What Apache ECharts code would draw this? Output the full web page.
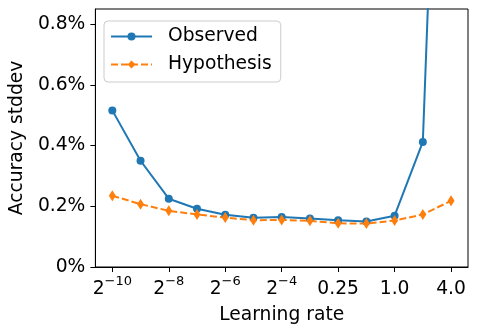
<!DOCTYPE html>
<html>
<head>
<meta charset="utf-8">
<script src="https://cdn.jsdelivr.net/npm/echarts@6.0.0/dist/echarts.min.js"></script>
<style>
    html, body { margin: 0; padding: 0; background: #fff; }
    #lrChart { width: 477px; height: 333px; }
</style>
</head>
<body>
<div id="lrChart"></div>
<script>
// learning rate = 2^exponent, stddev values in %
var lrExponents = [-10, -9, -8, -7, -6, -5, -4, -3, -2, -1, 0, 1, 2];
var observed = [0.516, 0.350, 0.225, 0.192, 0.172, 0.162, 0.165, 0.160, 0.154, 0.150, 0.169, 0.412, 2.9];
var hypothesis = [0.235, 0.207, 0.185, 0.173, 0.163, 0.154, 0.155, 0.152, 0.144, 0.143, 0.153, 0.173, 0.218];
var tickExponents = [-10, -8, -6, -4, -2, 0, 2];
var tickLabels = ['2^−10', '2^−8', '2^−6', '2^−4', '0.25', '1.0', '4.0'];

var font = 'DejaVu Sans';

function pairs(values) {
    var out = [];
    for (var i = 0; i < lrExponents.length; i++) {
        out.push([lrExponents[i], values[i]]);
    }
    return out;
}

function xLabel(v) {
    var idx = tickExponents.indexOf(Math.round(v));
    if (idx < 0) return '';
    var txt = tickLabels[idx];
    if (txt.indexOf('^') >= 0) {
        var parts = txt.split('^');
        return '{b|' + parts[0] + '}{s|' + parts[1] + '}';
    }
    return '{b|' + txt + '}';
}

var myChart = echarts.init(document.getElementById('lrChart'));
var option = {
    animation: false,
    backgroundColor: '#fff',
    grid: {
        left: 94, top: 9, right: 9, bottom: 66,
        show: true, borderColor: '#000', borderWidth: 1
    },
    legend: {
        orient: 'vertical',
        left: 104, top: 21,
        itemWidth: 41, itemHeight: 10, itemGap: 9,
        padding: [6, 9, 8, 6],
        backgroundColor: 'rgba(255,255,255,0.8)',
        borderColor: '#cccccc', borderWidth: 1, borderRadius: 4,
        textStyle: { fontSize: 18.7, color: '#000', fontFamily: font, padding: [0, 0, 0, 11] },
        data: ['Observed', 'Hypothesis']
    },
    xAxis: {
        type: 'value',
        min: -10.6, max: 2.6,
        name: 'Learning rate',
        nameLocation: 'middle',
        nameGap: 39,
        nameTextStyle: { fontSize: 18.7, color: '#000', fontFamily: font },
        axisLine: { show: true, onZero: false, lineStyle: { color: '#000', width: 1 } },
        axisTick: { show: true, length: 5, customValues: tickExponents, lineStyle: { color: '#000' } },
        splitLine: { show: false },
        axisLabel: {
            customValues: tickExponents,
            margin: 8,
            color: '#000',
            formatter: xLabel,
            rich: {
                b: { fontSize: 18.7, fontFamily: font, color: '#000', lineHeight: 24, verticalAlign: 'bottom' },
                s: { fontSize: 13, fontFamily: font, color: '#000', lineHeight: 13, verticalAlign: 'top' }
            }
        }
    },
    yAxis: {
        type: 'value',
        min: 0, max: 0.85, interval: 0.2,
        name: 'Accuracy stddev',
        nameLocation: 'middle',
        nameGap: 62,
        nameTextStyle: { fontSize: 18.7, color: '#000', fontFamily: font },
        axisLine: { show: true, onZero: false, lineStyle: { color: '#000', width: 1 } },
        axisTick: { show: true, length: 5, lineStyle: { color: '#000' } },
        splitLine: { show: false },
        axisLabel: {
            margin: 10,
            fontSize: 18.7, fontFamily: font, color: '#000',
            formatter: function (v) {
                return v === 0 ? '0%' : v.toFixed(1) + '%';
            }
        }
    },
    series: [
        {
            name: 'Observed',
            type: 'line',
            data: pairs(observed),
            symbol: 'circle',
            symbolSize: 8,
            color: '#1f77b4',
            itemStyle: { color: '#1f77b4' },
            lineStyle: { color: '#1f77b4', width: 2 }
        },
        {
            name: 'Hypothesis',
            type: 'line',
            data: pairs(hypothesis),
            symbol: 'diamond',
            symbolSize: [7, 11],
            color: '#ff7f0e',
            itemStyle: { color: '#ff7f0e' },
            lineStyle: { color: '#ff7f0e', width: 2, type: [7, 3] }
        }
    ]
};
myChart.setOption(option);
</script>
</body>
</html>
